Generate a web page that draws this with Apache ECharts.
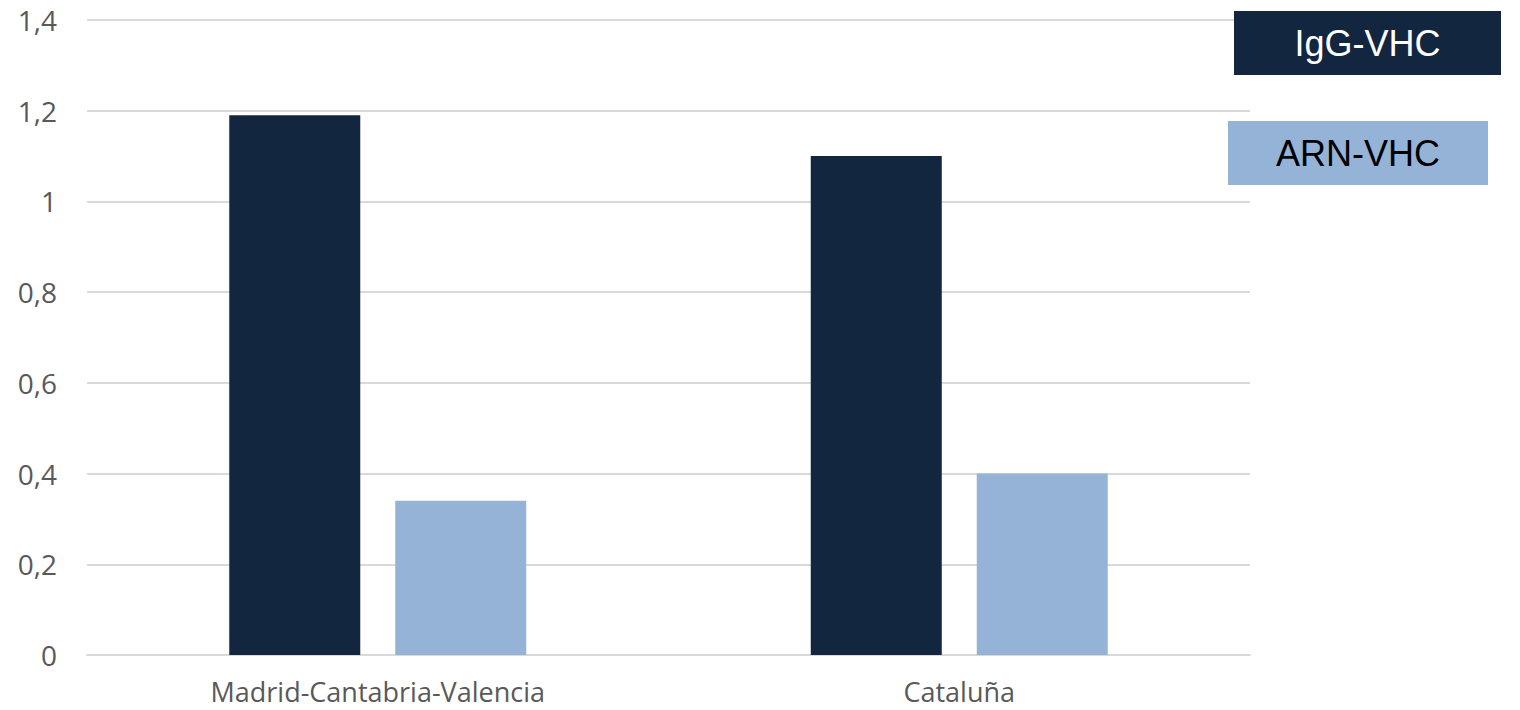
<!DOCTYPE html>
<html>
<head>
<meta charset="utf-8">
<script src="https://cdn.jsdelivr.net/npm/echarts@6/dist/echarts.min.js"></script>
<style>html,body{margin:0;padding:0;background:#fff}#c{width:1520px;height:710px}</style>
</head>
<body>
<div id="c"></div>
<script>
var categories = ['Madrid-Cantabria-Valencia', 'Cataluña'];
var seriesNames = ['IgG-VHC', 'ARN-VHC'];
var igg = [1.19, 1.1];
var arn = [0.34, 0.4];
var yTicks = { min: 0, max: 1.4, interval: 0.2 };

var chart = echarts.init(document.getElementById('c'), null, { renderer: 'svg' });
function legendItem(name, bg, fg, left, top, w) {
  return {
    left: left, top: top, orient: 'vertical', selectedMode: false,
    icon: 'none', itemWidth: 0, itemHeight: 64, padding: 0,
    data: [name],
    formatter: function (n) { return '{a|' + n + '}'; },
    textStyle: {
      rich: {
        a: { backgroundColor: bg, color: fg, width: w, height: 64, lineHeight: 64,
             align: 'center', fontSize: 36, fontFamily: 'Liberation Sans' }
      }
    }
  };
}
chart.setOption({
  animation: false,
  grid: { left: 87, right: 270, top: 20, bottom: 55, containLabel: false },
  legend: [
    legendItem(seriesNames[0], '#12263F', '#ffffff', 1229, 11, 267),
    legendItem(seriesNames[1], '#95B3D7', '#000000', 1223, 121, 260)
  ],
  xAxis: {
    type: 'category', data: categories,
    axisLine: { show: true, lineStyle: { color: '#d9d9d9', width: 2 } },
    axisTick: { show: false },
    axisLabel: { color: '#595959', fontSize: 27, lineHeight: 27, fontFamily: 'Open Sans', margin: 23 }
  },
  yAxis: {
    type: 'value', min: yTicks.min, max: yTicks.max, interval: yTicks.interval,
    axisLine: { show: false }, axisTick: { show: false },
    splitLine: { lineStyle: { color: '#d9d9d9', width: 2 } },
    axisLabel: {
      color: '#595959', fontSize: 28, fontFamily: 'Open Sans', margin: 30,
      formatter: function (v) { return String(+v.toFixed(1)).replace('.', ','); }
    }
  },
  series: [
    { name: seriesNames[0], type: 'bar', data: igg, barWidth: 131, barGap: '26.7%',
      itemStyle: { color: '#12263F' } },
    { name: seriesNames[1], type: 'bar', data: arn, barWidth: 131, barGap: '26.7%',
      itemStyle: { color: '#95B3D7' } }
  ]
});
</script>
</body>
</html>
